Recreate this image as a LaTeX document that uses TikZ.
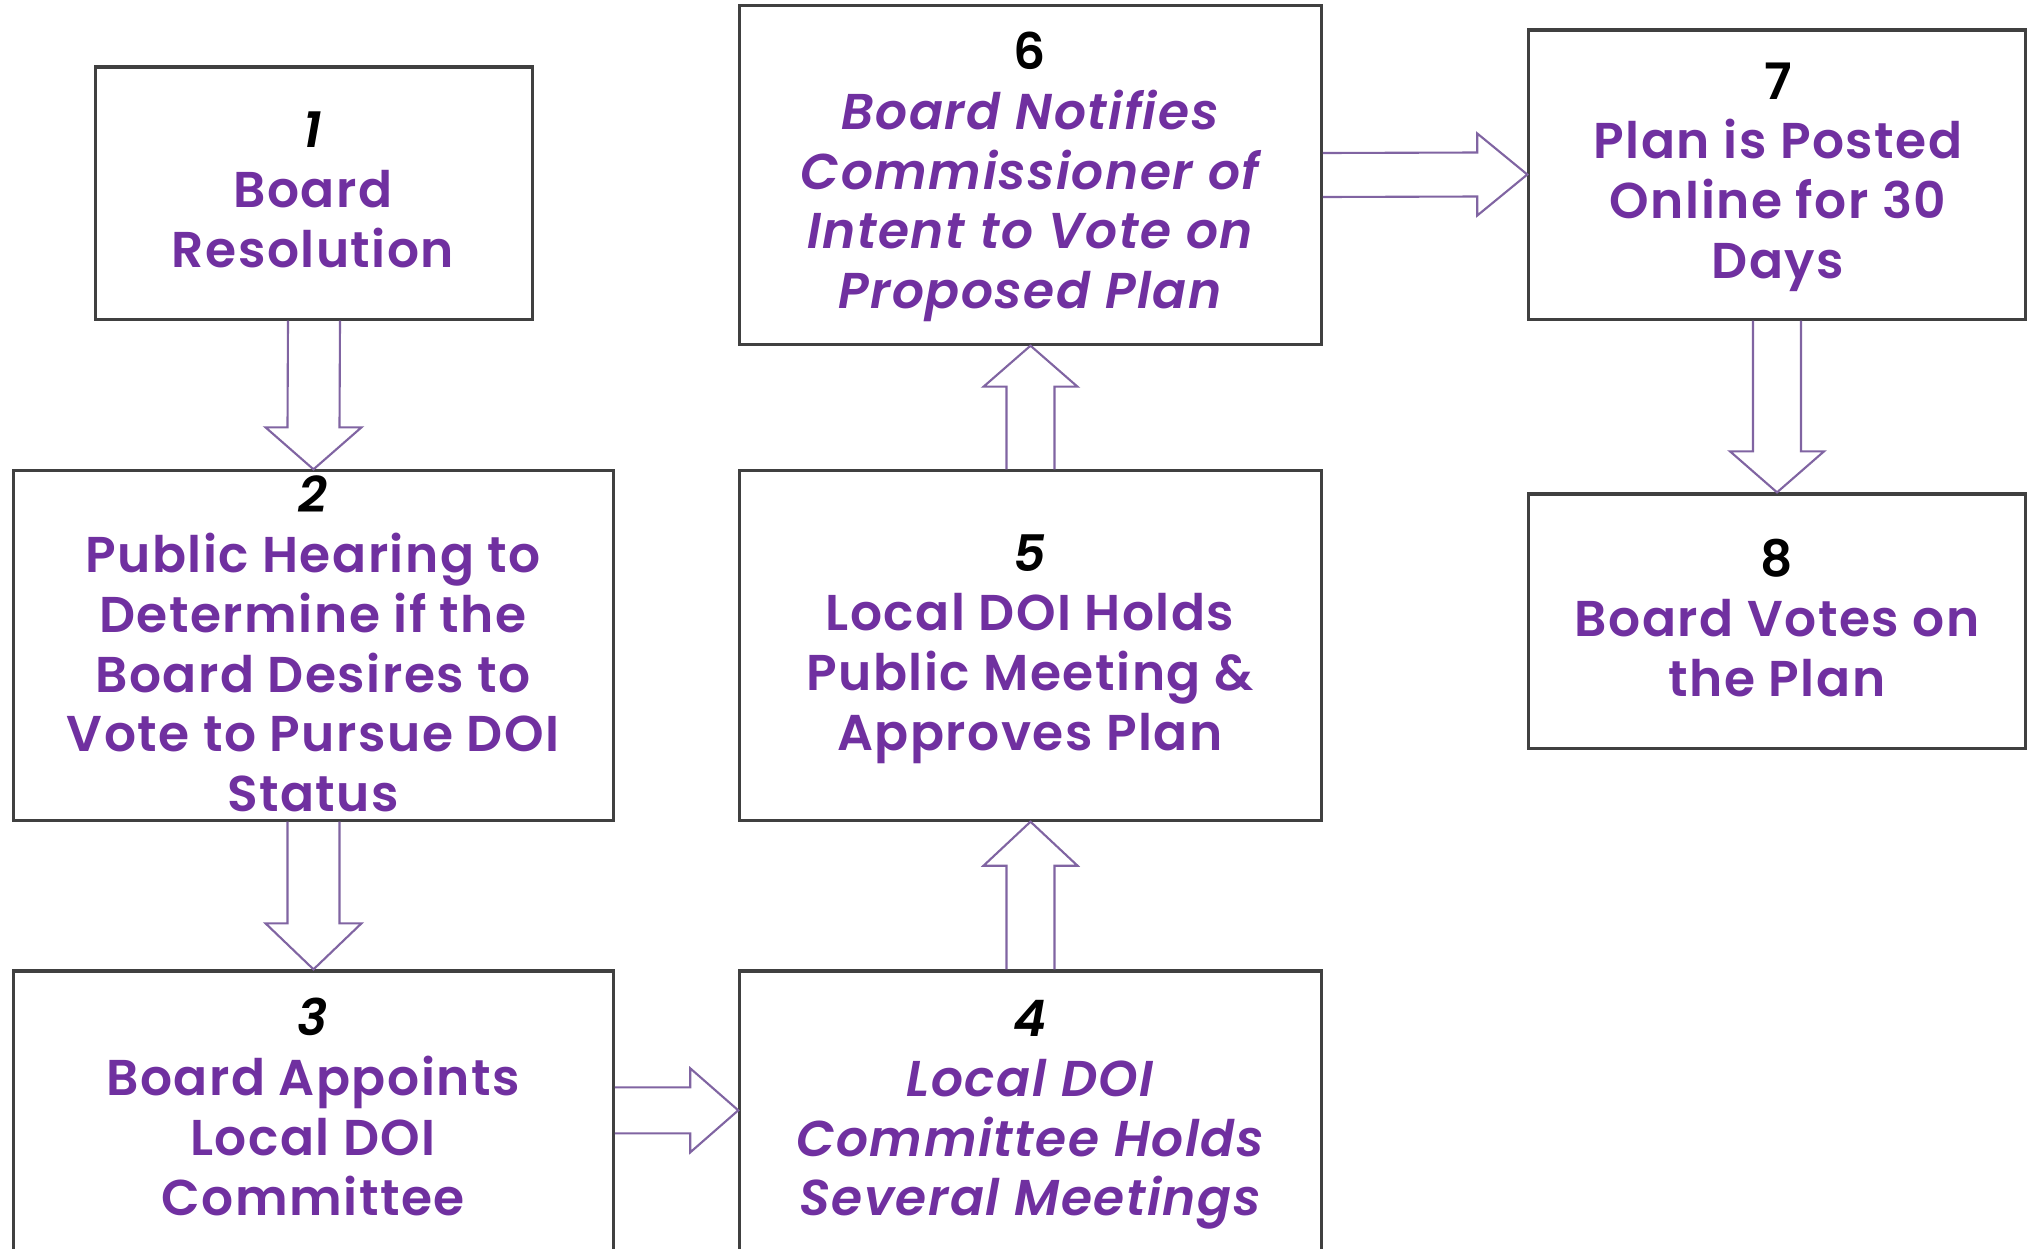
\documentclass[tikz,border=0pt]{standalone}
\usepackage{fontspec}
\setmainfont{Poppins}[BoldFont=* SemiBold, BoldItalicFont=* SemiBold Italic, LetterSpace=3]
\usetikzlibrary{calc}
\definecolor{purp}{HTML}{7030A0}
\definecolor{arrowc}{HTML}{8064A2}
\definecolor{boxc}{HTML}{404040}
\begin{document}
\begin{tikzpicture}[x=0.01cm,y=-0.01cm,
  box/.style={draw=boxc, line width=0.9pt, inner sep=0pt, rectangle},
  txt/.style={align=center, text=purp, inner sep=0pt,
    font=\fontsize{14.3}{17}\selectfont\bfseries},
  itxt/.style={txt, font=\fontsize{14.3}{17}\selectfont\bfseries\itshape},
  barrow/.style={draw=arrowc, line width=0.6pt, line join=miter}]
\useasboundingbox (0,0) rectangle (2028,1248);
\clip (0,0) rectangle (2028,1248);
\fill[white] (0,0) rectangle (2028,1248);
% boxes
\node[box, minimum width=4.36cm, minimum height=2.52cm] (b1) at (314,193) {};
\node[box, minimum width=5.99cm, minimum height=3.49cm] (b2) at (313.5,645.5) {};
\node[box, minimum width=5.99cm, minimum height=3.29cm] (b3) at (313.5,1135.5) {};
\node[box, minimum width=5.81cm, minimum height=3.29cm] (b4) at (1030.5,1135.5) {};
\node[box, minimum width=5.81cm, minimum height=3.49cm] (b5) at (1030.5,645.5) {};
\node[box, minimum width=5.81cm, minimum height=3.38cm] (b6) at (1030.5,175) {};
\node[box, minimum width=4.96cm, minimum height=2.89cm] (b7) at (1777,174.5) {};
\node[box, minimum width=4.96cm, minimum height=2.54cm] (b8) at (1777,621) {};
% texts
\node[txt] (t1) at (313,190) {{\color{black}\itshape 1}\\Board\\Resolution};
\node[txt] (t2) at (313,644) {{\color{black}\itshape 2}\\Public Hearing to\\Determine if the\\Board Desires to\\Vote to Pursue DOI\\Status};
\node[txt] (t3) at (313,1107) {{\color{black}\itshape 3}\\Board Appoints\\Local DOI\\Committee};
\node[itxt] (t4) at (1030,1115) {{\color{black}4}\\Local DOI\\Committee Holds\\Several Meetings};
\node[txt] (t5) at (1030,649) {{\color{black}\itshape 5}\\Local DOI Holds\\Public Meeting \&\\Approves Plan};
\node[itxt] (t6) at (1030,177) {{\color{black}\upshape 6}\\Board Notifies\\Commissioner of\\Intent to Vote on\\Proposed Plan};
\node[txt] (t7) at (1778,177) {{\color{black}7}\\Plan is Posted\\Online for 30\\Days};
\node[txt] (t8) at (1777,618) {{\color{black}8}\\Board Votes on\\the Plan};
% block arrows
% 1 -> 2 (down)
\draw[barrow] ($(b1.south)+(-26,0)$) -- ($(b2.north)+(-26,-42)$) -- ($(b2.north)+(-48,-42)$)
  -- (b2.north) -- ($(b2.north)+(48,-42)$) -- ($(b2.north)+(26,-42)$) -- ($(b1.south)+(26,0)$);
% 2 -> 3 (down)
\draw[barrow] ($(b2.south)+(-26,0)$) -- ($(b3.north)+(-26,-46)$) -- ($(b3.north)+(-48,-46)$)
  -- (b3.north) -- ($(b3.north)+(48,-46)$) -- ($(b3.north)+(26,-46)$) -- ($(b2.south)+(26,0)$);
% 3 -> 4 (right)
\coordinate (a34s) at ($(b3.north east)+(0,141)$);
\coordinate (a34e) at ($(b4.north west)+(0,141)$);
\draw[barrow] ($(a34s)+(0,-23)$) -- ($(a34e)+(-48,-23)$) -- ($(a34e)+(-48,-42)$)
  -- (a34e) -- ($(a34e)+(-48,42)$) -- ($(a34e)+(-48,23)$) -- ($(a34s)+(0,23)$);
% 4 -> 5 (up)
\draw[barrow] ($(b4.north)+(-24,0)$) -- ($(b5.south)+(-24,44)$) -- ($(b5.south)+(-47,44)$)
  -- (b5.south) -- ($(b5.south)+(47,44)$) -- ($(b5.south)+(24,44)$) -- ($(b4.north)+(24,0)$);
% 5 -> 6 (up)
\draw[barrow] ($(b5.north)+(-24,0)$) -- ($(b6.south)+(-24,41)$) -- ($(b6.south)+(-47,41)$)
  -- (b6.south) -- ($(b6.south)+(47,41)$) -- ($(b6.south)+(24,41)$) -- ($(b5.north)+(24,0)$);
% 6 -> 7 (right)
\draw[barrow] ($(b6.east)+(0,-22)$) -- ($(b7.west)+(-50,-22)$) -- ($(b7.west)+(-50,-41)$)
  -- (b7.west) -- ($(b7.west)+(-50,41)$) -- ($(b7.west)+(-50,22)$) -- ($(b6.east)+(0,22)$);
% 7 -> 8 (down)
\draw[barrow] ($(b7.south)+(-24,0)$) -- ($(b8.north)+(-24,-41)$) -- ($(b8.north)+(-47,-41)$)
  -- (b8.north) -- ($(b8.north)+(47,-41)$) -- ($(b8.north)+(24,-41)$) -- ($(b7.south)+(24,0)$);
\end{tikzpicture}
\end{document}
